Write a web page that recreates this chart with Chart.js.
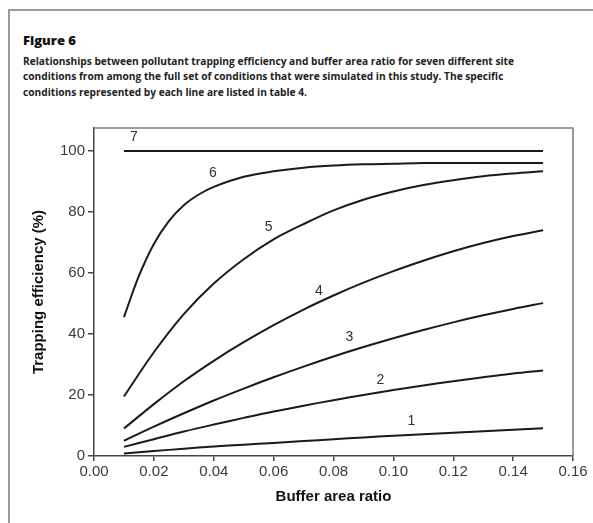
<!DOCTYPE html>
<html>
<head>
<meta charset="utf-8">
<script src="https://cdn.jsdelivr.net/npm/chart.js@4"></script>
<style>
  html, body { margin: 0; padding: 0; background: #fff; }
  body { width: 593px; height: 523px; position: relative; overflow: hidden; }
  #frame { position: absolute; left: 8px; top: 9px; width: 600px; height: 600px; border: 2px solid #9a9a9a; box-sizing: border-box; }
  #fig { position: absolute; left: 23px; top: 31px; font-family: "Open Sans", sans-serif; font-weight: 800; font-size: 13px; color: #111; }
  #cap { position: absolute; left: 23px; top: 53px; font-family: "Open Sans", sans-serif; font-weight: 700; font-size: 11.3px; line-height: 15.3px; color: #222; white-space: nowrap; transform: scaleX(0.9); transform-origin: 0 0; }
  #wrap { position: absolute; left: 0; top: 0; width: 593px; height: 523px; }
</style>
</head>
<body>
<div id="frame"></div>
<div id="fig">Figure 6</div>
<div id="cap">Relationships between pollutant trapping efficiency and buffer area ratio for seven different site<br>conditions from among the full set of conditions that were simulated in this study. The specific<br>conditions represented by each line are listed in table 4.</div>
<div id="wrap"><canvas id="c" width="593" height="523"></canvas></div>
<script>
// ---- data ----
const xTicks = [0, 0.02, 0.04, 0.06, 0.08, 0.10, 0.12, 0.14, 0.16];
const yTicks = [0, 20, 40, 60, 80, 100];
const xRatio = [0.01, 0.02, 0.03, 0.04, 0.05, 0.06, 0.07, 0.08, 0.09, 0.10, 0.11, 0.12, 0.13, 0.14, 0.15];
const xRatio6 = [0.01, 0.015, 0.02, 0.025, 0.03, 0.035, 0.04, 0.05, 0.06, 0.07, 0.08, 0.09, 0.10, 0.11, 0.12, 0.13, 0.14, 0.15];
const line1 = [0.8, 1.6, 2.4, 3.1, 3.7, 4.3, 4.9, 5.5, 6.1, 6.6, 7.1, 7.6, 8.1, 8.6, 9.1];
const line2 = [3, 5.5, 8, 10.3, 12.5, 14.6, 16.5, 18.3, 20, 21.6, 23.1, 24.5, 25.8, 27, 28];
const line3 = [5, 9.6, 14, 18.2, 22.1, 25.8, 29.3, 32.6, 35.7, 38.6, 41.3, 43.8, 46.1, 48.2, 50.1];
const line4 = [9, 17, 24.5, 31.2, 37.3, 42.9, 48, 52.6, 56.8, 60.6, 64, 67.1, 69.8, 72.1, 74];
const line5 = [19.5, 34, 46.5, 56.5, 64.5, 71, 76, 80.5, 84, 86.7, 88.8, 90.4, 91.7, 92.6, 93.3];
const line6 = [45.5, 59, 69.5, 77, 82.2, 85.7, 88.2, 91.5, 93.3, 94.5, 95.2, 95.6, 95.8, 96, 96, 96, 96, 96];
const line7 = [100, 100, 100, 100, 100, 100, 100, 100, 100, 100, 100, 100, 100, 100, 100];
const lineLabels = ["1", "2", "3", "4", "5", "6", "7"];
const labelX = [0.106, 0.0957, 0.0853, 0.0751, 0.0583, 0.0397, 0.0133];
const labelY = [11.3, 25.0, 39.0, 54.1, 75.0, 92.7, 104.6];

const pts = (xs, ys) => xs.map((x, i) => ({x: x, y: ys[i]}));
const series = [
  pts(xRatio, line1), pts(xRatio, line2), pts(xRatio, line3), pts(xRatio, line4),
  pts(xRatio, line5), pts(xRatio6, line6), pts(xRatio, line7)
];

const boxPlugin = {
  id: 'box',
  afterDatasetsDraw(chart) {
    const {ctx, chartArea: a, scales} = chart;
    ctx.save();
    ctx.strokeStyle = '#808080';
    ctx.lineWidth = 1.6;
    ctx.beginPath();
    ctx.moveTo(a.left, a.top); ctx.lineTo(a.right, a.top); ctx.lineTo(a.right, a.bottom);
    ctx.stroke();
    ctx.fillStyle = '#333';
    ctx.font = '14px "Liberation Sans", Arial, sans-serif';
    ctx.textAlign = 'center';
    ctx.textBaseline = 'middle';
    lineLabels.forEach((t, i) => {
      ctx.fillText(t, scales.x.getPixelForValue(labelX[i]), scales.y.getPixelForValue(labelY[i]));
    });
    ctx.restore();
  }
};

const tickFont = { family: '"Liberation Sans", Arial, sans-serif', size: 15 };
const titleFont = { family: '"Liberation Sans", Arial, sans-serif', size: 15, weight: 'bold' };

new Chart(document.getElementById('c'), {
  type: 'line',
  data: {
    datasets: series.map((d, i) => ({
      label: lineLabels[i],
      data: d,
      borderColor: '#1a1a1a',
      borderWidth: 2,
      pointRadius: 0,
      tension: 0.35,
      fill: false
    }))
  },
  options: {
    responsive: false,
    animation: false,
    layout: { padding: { top: 128, right: 20, left: 0, bottom: 0 } },
    plugins: { legend: { display: false }, tooltip: { enabled: false } },
    scales: {
      x: {
        type: 'linear', min: 0, max: 0.16,
        afterBuildTicks: s => { s.ticks = xTicks.map(v => ({value: v})); },
        afterFit: s => { s.height = 67; },
        ticks: { callback: v => Number(v).toFixed(2), color: '#3a3a3a', font: tickFont, padding: 2, maxRotation: 0 },
        grid: { drawOnChartArea: false, drawTicks: true, tickLength: 5, color: '#444', lineWidth: 1.5 },
        border: { color: '#444', width: 1.5 },
        title: { display: true, text: 'Buffer area ratio', color: '#111', font: titleFont, padding: { top: 0, bottom: 17 } }
      },
      y: {
        type: 'linear', min: 0, max: 107.5,
        afterBuildTicks: s => { s.ticks = yTicks.map(v => ({value: v})); },
        afterFit: s => { s.width = 94; },
        ticks: { color: '#3a3a3a', font: tickFont, padding: 3 },
        grid: { drawOnChartArea: false, drawTicks: true, tickLength: 6, color: '#444', lineWidth: 1.5 },
        border: { color: '#444', width: 1.5 },
        title: { display: true, text: 'Trapping efficiency (%)', color: '#111', font: titleFont, padding: { top: 30, bottom: 0 } }
      }
    }
  },
  plugins: [boxPlugin]
});
</script>
</body>
</html>
